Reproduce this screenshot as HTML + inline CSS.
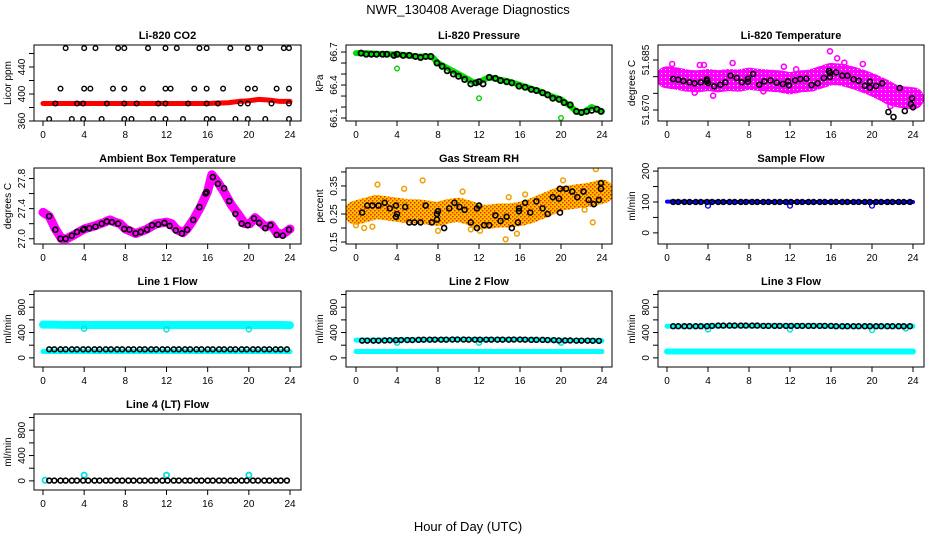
<!DOCTYPE html>
<html><head><meta charset="utf-8">
<style>
html,body{margin:0;padding:0;background:#fff;}
svg{display:block;font-family:"Liberation Sans",sans-serif;}
.tt{font-weight:bold;font-size:11px;}
.tk{font-size:10px;}
</style></head>
<body>
<svg id="fig" width="936" height="540" viewBox="0 0 936 540">
<defs>
<pattern id="rhpat" width="4" height="4" patternUnits="userSpaceOnUse">
<rect width="4" height="4" fill="#ffc000"/><rect width="1.5" height="1.5" fill="#e83000"/><rect x="2" y="2" width="1.5" height="1.5" fill="#e83000"/>
</pattern>
<pattern id="ltpat" width="4" height="4" patternUnits="userSpaceOnUse">
<rect width="4" height="4" fill="#ff00ff"/><rect x="1" y="1" width="1" height="1" fill="#ffffff"/>
</pattern>
</defs>
<text x="468" y="14" text-anchor="middle" font-size="13">NWR_130408  Average Diagnostics</text>
<text x="468" y="531" text-anchor="middle" font-size="13">Hour of Day (UTC)</text>
</svg>
<script>
// ---- data ----
const hrs = [0.6,1.1,1.7,2.2,2.8,3.3,3.9,4.4,5,5.5,6.1,6.6,7.2,7.7,8.3,8.8,9.4,9.9,10.5,11,11.6,12.1,12.7,13.2,13.8,14.3,14.9,15.4,16,16.5,17.1,17.6,18.2,18.7,19.3,19.8,20.4,20.9,21.5,22,22.6,23.1,23.7];
const bandHours = [0,1,2,3,4,5,6,7,8,9,10,11,12,13,14,15,16,17,18,19,20,21,22,23,24];

const co2BandX = [0,4,8,12,16,18,19,20,21,22,23,24];
const co2BandY = [386,386,386,386,386,387,389,390,392,391,389,389];
const co2TopX = [2.2,4,5.1,7.3,7.9,10.2,11.9,13,15.2,15.9,18.2,19.9,21.1,23.4,23.9];
const co2TopY = [468,468,468,468,468,468,468,468,468,468,468,468,468,468,468];
const co2MidX = [1.7,4,4.6,6.8,7.9,9.7,11.9,12.4,14.7,15.9,17.5,19.9,20.6,22.7,23.9];
const co2MidY = [408,408,408,408,408,408,408,408,408,408,408,408,408,408,408];
const co2LowX = [1.2,3.3,3.9,6.2,7.9,9.1,11.2,11.9,14.1,15.9,17,19.2,19.9,22.2,23.9];
const co2LowY = [386,386,386,386,386,386,386,386,386,386,386,386,386,386,386];
const co2BotX = [0.6,2.8,3.9,5.7,7.9,8.6,10.7,11.9,13.6,15.9,16.5,18.7,19.9,21.6,23.9];
const co2BotY = [363,363,363,363,363,363,363,363,363,363,363,363,363,363,363];

const presBandX = [0,1,2,3,4,5,6,7,7.5,8,9,10,11,11.5,12,13,14,15,16,17,18,19,20,21,21.5,22,22.5,23,23.5,24];
const presBandY = [66.69,66.69,66.685,66.68,66.68,66.67,66.66,66.66,66.65,66.6,66.55,66.5,66.45,66.42,66.43,66.47,66.45,66.43,66.4,66.37,66.34,66.3,66.27,66.2,66.16,66.15,66.17,66.2,66.18,66.16];
const presOutX = [4,12,20];
const presOutY = [66.55,66.28,66.1];
const presBlkX = [0.5,1,1.5,2,2.6,3,3.7,4,4.6,5.2,5.8,6.3,6.8,7.3,7.9,8.4,8.9,9.5,10,10.6,11.2,11.7,12,12.4,13,13.6,14.1,14.7,15.2,15.9,16.5,17.1,17.6,18.2,18.7,19.2,19.8,20.3,20.9,21.5,22,22.5,23,23.5,23.9];
const presBlkY = [66.69,66.68,66.68,66.68,66.68,66.68,66.67,66.68,66.67,66.67,66.66,66.65,66.66,66.66,66.6,66.57,66.53,66.5,66.48,66.45,66.41,66.42,66.43,66.41,66.47,66.46,66.44,66.43,66.42,66.39,66.38,66.36,66.35,66.33,66.31,66.28,66.27,66.24,66.22,66.16,66.15,66.16,66.17,66.18,66.16];

const ltBandX = [0,1,2,3,4,5,6,7,8,9,10,11,12,13,14,15,16,17,18,19,20,21,22,23,24];
const ltBandY = [51.6798,51.6794,51.6788,51.6786,51.679,51.6786,51.679,51.6788,51.6794,51.679,51.6788,51.6786,51.678,51.6786,51.6788,51.6798,51.6808,51.6806,51.6798,51.6788,51.6776,51.6762,51.6745,51.6738,51.6735];
const ltOutX = [0.5,2.7,3.2,3.6,4.5,6.4,9.4,11.4,15.9,16.6,19.1,22.8,0.8,12.6,17.3,21.8];
const ltOutY = [51.6838,51.6752,51.6835,51.6835,51.6743,51.6841,51.6756,51.683,51.6876,51.6855,51.6838,51.6659,51.6817,51.6822,51.6842,51.6712];
const ltBlkX = [0.6,1.1,1.6,2.2,2.7,3.3,3.9,3.9,4,4.6,5.2,5.7,6.2,6.8,7.3,7.9,7.9,8.4,9,9.5,10.1,10.7,11.3,11.8,11.9,12.5,13,13.6,14.1,14.7,15.3,15.9,15.8,15.9,16.5,17.1,17.6,18.2,18.7,19.3,19.8,19.8,20.4,21,21.6,22.1,22.7,23.2,23.8,23.9,24];
const ltBlkY = [51.6793,51.6791,51.6787,51.6783,51.678,51.6783,51.6792,51.6787,51.6781,51.6771,51.6776,51.6783,51.6803,51.6796,51.6783,51.6785,51.6794,51.6808,51.6776,51.6786,51.6789,51.6782,51.6778,51.6786,51.6774,51.6789,51.6793,51.6794,51.6775,51.678,51.6796,51.6811,51.6817,51.6799,51.6813,51.6803,51.6803,51.6792,51.6788,51.6773,51.6785,51.6767,51.6772,51.678,51.6694,51.6679,51.6766,51.6697,51.6718,51.6735,51.6708];

const ambBandX = [0,0.6,1.2,1.8,2.3,3,4,5,6,6.5,7,7.5,8,9,10,11,12,12.5,13,13.6,14,14.6,15.3,16,16.4,17,17.6,18.3,19,19.6,20.1,20.6,21.1,21.6,22.2,22.7,23.3,24];
const ambBandY = [27.35,27.3,27.13,27.0,27.0,27.05,27.13,27.17,27.22,27.25,27.22,27.2,27.13,27.07,27.12,27.2,27.22,27.2,27.12,27.08,27.13,27.25,27.42,27.63,27.85,27.75,27.62,27.45,27.32,27.2,27.2,27.28,27.22,27.16,27.18,27.08,27.06,27.13];
const ambBlkX = [0.6,1.2,1.7,2.2,2.8,3.3,3.9,4,4.5,5.1,5.7,6.2,6.7,7.3,7.9,8.4,9,9.5,10.1,10.6,11.2,11.8,12.3,12.9,13.5,14,14.6,15.2,15.8,15.9,16.5,17,17.6,18.1,18.7,19.3,19.9,20.5,21,21.6,22.1,22.7,23.3,23.9];
const ambBlkY = [27.3,27.12,27.0,27.0,27.04,27.09,27.12,27.13,27.14,27.16,27.2,27.23,27.22,27.2,27.13,27.12,27.07,27.09,27.12,27.18,27.19,27.21,27.17,27.11,27.07,27.12,27.25,27.42,27.6,27.62,27.82,27.73,27.67,27.5,27.33,27.2,27.18,27.27,27.21,27.14,27.18,27.05,27.04,27.12];

const rhBandX = [0,1,2,3,4,5,6,7,8,9,10,11,12,13,14,15,16,17,18,19,20,21,22,23,24];
const rhBandY = [0.255,0.265,0.275,0.27,0.265,0.26,0.26,0.255,0.25,0.26,0.265,0.255,0.24,0.24,0.245,0.245,0.25,0.26,0.275,0.29,0.305,0.31,0.315,0.32,0.33];
const rhOutX = [0,0.8,1.6,2.1,4.7,6.5,8,10.4,11.2,12.1,14.6,14.9,15.7,16.5,20.2,22.3,23.1,23.4];
const rhOutY = [0.21,0.2,0.205,0.355,0.34,0.37,0.19,0.33,0.195,0.19,0.16,0.31,0.18,0.32,0.37,0.265,0.22,0.41];
const rhBlkX = [0.6,1.1,1.6,2.2,2.8,3.3,3.9,3.9,4,4.8,5.2,5.7,6.3,6.8,7.4,7.9,7.9,8,8.6,9.1,9.6,10.1,10.6,11.2,11.8,11.8,12,12.5,13,13.6,14.1,14.7,15.2,15.8,15.9,15.9,16.5,17,17.6,18.2,18.7,19.2,19.8,19.9,19.9,20.5,21.1,21.6,22.2,22.7,23.2,23.7,23.9,23.9];
const rhBlkY = [0.255,0.28,0.28,0.28,0.29,0.27,0.28,0.24,0.25,0.275,0.22,0.22,0.22,0.28,0.22,0.23,0.25,0.26,0.2,0.27,0.29,0.275,0.265,0.22,0.2,0.27,0.28,0.21,0.21,0.245,0.225,0.24,0.2,0.22,0.26,0.27,0.29,0.255,0.295,0.27,0.25,0.31,0.305,0.34,0.255,0.34,0.33,0.31,0.33,0.3,0.285,0.3,0.34,0.36];

const sfBandY = [101,101,100,100,101,100,100,100,101,100,100,100,100,100,100,100,100,100,100,100,100,100,100,100,100];
const sfOutX = [4,12,20];
const sfOutY = [88,88,88];
const sfBlkY = [100,100,100,100,100,100,100,100,100,100,100,100,100,100,100,100,100,100,100,100,100,100,100,100,100,100,100,100,100,100,100,100,100,100,100,100,100,100,100,100,100,100,100];

const l1HiY = [525,525,522,522,520,520,520,520,520,520,520,520,520,520,520,520,520,520,520,520,520,520,520,520,515];
const l1LoY = [100,100,100,100,100,100,100,100,100,100,100,100,100,100,100,100,100,100,100,100,100,100,100,100,100];
const l1OutX = [4,12,20];
const l1OutY = [460,450,450];
const l1BlkY = [135,135,135,135,135,135,135,135,135,135,135,135,135,135,135,135,135,135,135,135,135,135,135,135,135,135,135,135,135,135,135,135,135,135,135,135,135,135,135,135,135,135,135];

const l2LoY = [100,100,100,100,100,100,100,100,100,100,100,100,100,100,100,100,100,100,100,100,100,100,100,100,100];
const l2HiY = [280,280,280,280,280,285,285,285,290,290,290,290,290,290,290,290,290,290,285,280,275,275,275,275,270];
const l2OutX = [4,12,20];
const l2OutY = [240,240,240];
const l2BlkY = [272,272,272,272,275,278,280,282,282,282,285,288,288,288,288,288,290,290,290,288,288,288,288,288,288,288,288,290,290,288,285,285,285,282,280,275,275,275,272,272,272,270,268];

const l3LoY = [100,100,100,100,100,100,100,100,100,100,100,100,100,100,100,100,100,100,100,100,100,100,100,100,100];
const l3HiY = [500,500,500,500,505,505,505,505,505,505,505,505,505,505,505,505,500,500,500,500,500,500,500,500,500];
const l3OutX = [4,12,20,23.3];
const l3OutY = [450,450,440,465];
const l3BlkY = [500,500,500,500,500,500,500,505,510,510,510,510,510,510,510,510,505,505,505,505,505,505,505,505,505,505,505,505,505,500,500,500,500,500,500,500,500,500,500,500,500,500,500];

const l4OutX = [0.2,4,12,20];
const l4OutY = [10,90,90,90];
const l4BlkY = [5,5,5,5,5,5,5,5,5,5,5,5,5,5,5,5,5,5,5,5,5,5,5,5,5,5,5,5,5,5,5,5,5,5,5,5,5,5,5,5,5,5,5];

const xTicks = [0,4,8,12,16,20,24];

// ---- drawing ----
const NS = "http://www.w3.org/2000/svg";
const svg = document.getElementById("fig");
const defs = svg.querySelector("defs");
function mk(tag, parent){ const e=document.createElementNS(NS,tag); parent.appendChild(e); return e; }

const cols = [{bl:34,br:301,x0:43,x24:290},{bl:346,br:612,x0:356,x24:602},{bl:658,br:924,x0:667,x24:913}];
const rows = [{bt:45,bb:121},{bt:168,bb:244},{bt:291,bb:367},{bt:414,bb:490}];
let clipN = 0;

function panel(name, title, ytitle, c, r, ylo, yhi, yticks, ylabels, yfmt){
  const C=cols[c], R=rows[r];
  const g=mk("g",svg);
  
  
  const sx = h => C.x0 + (h/24)*(C.x24-C.x0);
  const sy = v => R.bb - (v-ylo)/(yhi-ylo)*(R.bb-R.bt);
  const t=mk("text",g); t.setAttribute("class","tt"); t.setAttribute("x",(C.bl+C.br)/2); t.setAttribute("y",R.bt-6); t.setAttribute("text-anchor","middle"); t.textContent=title;
  
  
  const yt=mk("text",g); yt.setAttribute("class","tk"); yt.setAttribute("text-anchor","middle");
  const ytx=C.bl-23, yty=(R.bt+R.bb)/2;
  yt.setAttribute("transform",`translate(${ytx},${yty}) rotate(-90)`); yt.textContent=ytitle;
  
  
  const ax=mk("g",g);
  
  
  xTicks.forEach(h=>{
    const l=mk("line",ax); l.setAttribute("x1",sx(h)); l.setAttribute("x2",sx(h)); l.setAttribute("y1",R.bb); l.setAttribute("y2",R.bb+5); l.setAttribute("stroke","#000");
    const tx=mk("text",ax); tx.setAttribute("class","tk"); tx.setAttribute("x",sx(h)); tx.setAttribute("y",R.bb+17); tx.setAttribute("text-anchor","middle"); tx.textContent=h;
  });
  const ay=mk("g",g);
  
  
  yticks.forEach(v=>{
    const l=mk("line",ay); l.setAttribute("x1",C.bl); l.setAttribute("x2",C.bl-5); l.setAttribute("y1",sy(v)); l.setAttribute("y2",sy(v)); l.setAttribute("stroke","#000");
  });
  ylabels.forEach(v=>{
    const tx=mk("text",ay); tx.setAttribute("class","tk"); tx.setAttribute("text-anchor","middle");
    tx.setAttribute("transform",`translate(${C.bl-9},${sy(v)}) rotate(-90)`); tx.textContent=yfmt(v);
  });
  const cp=mk("clipPath",defs); const id="cp"+(clipN++); cp.setAttribute("id",id);
  const cr=mk("rect",cp); cr.setAttribute("x",C.bl); cr.setAttribute("y",R.bt); cr.setAttribute("width",C.br-C.bl); cr.setAttribute("height",R.bb-R.bt);
  const clip=mk("g",g); clip.setAttribute("clip-path","url(#"+id+")");
  
  
  const box=mk("rect",g); box.setAttribute("x",C.bl); box.setAttribute("y",R.bt); box.setAttribute("width",C.br-C.bl); box.setAttribute("height",R.bb-R.bt); box.setAttribute("fill","none"); box.setAttribute("stroke","#000");
  
  
  return {g:clip, sx, sy};
}
function band(P, xs, ys, color, w, name){
  const p=mk("polyline",P.g);
  p.setAttribute("points", xs.map((x,i)=>P.sx(x)+","+P.sy(ys[i])).join(" "));
  p.setAttribute("fill","none"); p.setAttribute("stroke",color); p.setAttribute("stroke-width",w);
  p.setAttribute("stroke-linejoin","round"); p.setAttribute("stroke-linecap","round");
  
  
}
function pts(P, xs, ys, color, r, name, sw){
  const gg=mk("g",P.g);
  
  
  xs.forEach((x,i)=>{
    const c=mk("circle",gg); c.setAttribute("cx",P.sx(x)); c.setAttribute("cy",P.sy(ys[i])); c.setAttribute("r",r);
    c.setAttribute("fill","none"); c.setAttribute("stroke",color); c.setAttribute("stroke-width",sw||1.4);
    
    
  });
}
const f0 = v=>String(v), f1=v=>v.toFixed(1), f2=v=>v.toFixed(2), f3=v=>v.toFixed(3);

// CO2
let P=panel("co2-panel","Li-820 CO2","Licor ppm",0,0,360,472.6,[360,380,400,420,440,460],[360,400,440],f0);
band(P,co2BandX,co2BandY,"#ff0000",5,"co2-series");
pts(P,co2TopX,co2TopY,"#000",2.3,"co2-flask-top");
pts(P,co2MidX,co2MidY,"#000",2.3,"co2-flask-mid");
pts(P,co2LowX,co2LowY,"#000",2.3,"co2-flask-low");
pts(P,co2BotX,co2BotY,"#000",2.3,"co2-flask-bottom");

// Pressure
P=panel("pressure-panel","Li-820 Pressure","kPa",1,0,66.073,66.764,[66.1,66.2,66.3,66.4,66.5,66.6,66.7],[66.1,66.4,66.7],f1);
band(P,presBandX,presBandY,"#00e000",6,"pressure-series");
pts(P,presOutX,presOutY,"#00d000",2.3,"pressure-outliers");
pts(P,presBlkX,presBlkY,"#000",2.6,"pressure-averages",1.8);

// Li temp
P=panel("licor-temp-panel","Li-820 Temperature","degrees C",2,0,51.6667,51.6895,[51.670,51.675,51.680,51.685],[51.670,51.685],f3);
band(P,ltBandX,ltBandY,"url(#ltpat)",22,"licor-temp-series");
pts(P,ltOutX,ltOutY,"#ff00ff",2.5,"licor-temp-outliers",1.6);
pts(P,ltBlkX,ltBlkY,"#000",2.5,"licor-temp-averages",1.6);

// Ambient
P=panel("ambient-temp-panel","Ambient Box Temperature","degrees C",0,1,26.93,27.94,[27.0,27.2,27.4,27.6,27.8],[27.0,27.4,27.8],f1);
band(P,ambBandX,ambBandY,"#ff00ff",9,"ambient-temp-series");
pts(P,ambBlkX,ambBlkY,"#000",2.5,"ambient-temp-averages",1.6);

// RH
P=panel("rh-panel","Gas Stream RH","percent",1,1,0.143,0.414,[0.15,0.2,0.25,0.3,0.35,0.4],[0.15,0.25,0.35],f2);
band(P,rhBandX,rhBandY,"url(#rhpat)",24,"rh-series");
pts(P,rhOutX,rhOutY,"#f0a000",2.4,"rh-outliers",1.5);
pts(P,rhBlkX,rhBlkY,"#000",2.5,"rh-averages",1.6);

// Sample flow
P=panel("sample-flow-panel","Sample Flow","ml/min",2,1,-36,210,[0,50,100,150,200],[0,100,200],f0);
band(P,bandHours,sfBandY,"#0000ff",4,"sample-flow-series");
pts(P,sfOutX,sfOutY,"#0000ff",2.4,"sample-flow-outliers");
pts(P,hrs,sfBlkY,"#000",2.4,"sample-flow-averages",1.6);

const flowTicks=[0,200,400,600,800,1000], flowLabels=[0,400,800];
// Line 1
P=panel("line1-flow-panel","Line 1 Flow","ml/min",0,2,-144,1056,flowTicks,flowLabels,f0);
band(P,bandHours,l1HiY,"#00ffff",8,"line1-high-series");
band(P,bandHours,l1LoY,"#00ffff",5,"line1-low-series");
pts(P,l1OutX,l1OutY,"#00e0e0",2.5,"line1-outliers");
pts(P,hrs,l1BlkY,"#000",2.4,"line1-averages",1.6);
// Line 2
P=panel("line2-flow-panel","Line 2 Flow","ml/min",1,2,-144,1056,flowTicks,flowLabels,f0);
band(P,bandHours,l2LoY,"#00ffff",5,"line2-low-series");
band(P,bandHours,l2HiY,"#00ffff",5,"line2-high-series");
pts(P,l2OutX,l2OutY,"#00e0e0",2.5,"line2-outliers");
pts(P,hrs,l2BlkY,"#000",2.4,"line2-averages",1.6);
// Line 3
P=panel("line3-flow-panel","Line 3 Flow","ml/min",2,2,-144,1056,flowTicks,flowLabels,f0);
band(P,bandHours,l3LoY,"#00ffff",6,"line3-low-series");
band(P,bandHours,l3HiY,"#00ffff",5,"line3-high-series");
pts(P,l3OutX,l3OutY,"#00e0e0",2.5,"line3-outliers");
pts(P,hrs,l3BlkY,"#000",2.4,"line3-averages",1.6);
// Line 4
P=panel("line4-flow-panel","Line 4 (LT) Flow","ml/min",0,3,-144,1056,flowTicks,flowLabels,f0);
pts(P,l4OutX,l4OutY,"#00e0e0",2.6,"line4-outliers",1.8);
pts(P,hrs,l4BlkY,"#000",2.4,"line4-averages",1.6);
</script>
</body></html>
